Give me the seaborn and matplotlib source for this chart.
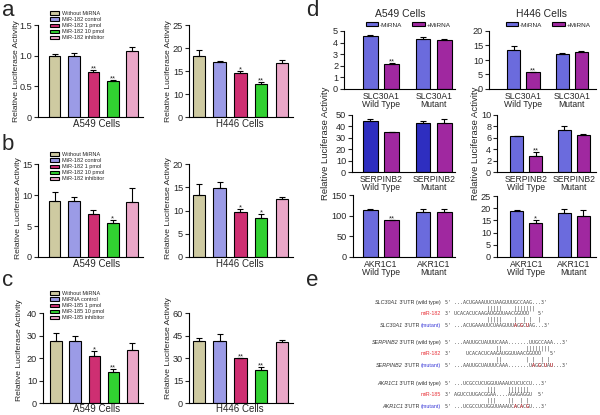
import numpy as np
import pandas as pd
import matplotlib
matplotlib.use("Agg")
import matplotlib.pyplot as plt
import seaborn as sns

sns.set_style("ticks")
plt.rcParams["font.family"] = ["Liberation Sans", "DejaVu Sans"]
plt.rcParams["axes.edgecolor"] = "black"

W, H = 600, 415

# ------------------ data: panels a-c ------------------
names_182 = ["Without MiRNA", "MiR-182 control", "MiR-182 1 pmol", "MiR-182 10 pmol", "MiR-182 inhibitor"]
names_185 = ["Without MiRNA", "MiRNA control", "MiR-185 1 pmol", "MiR-185 10 pmol", "MiR-185 inhibitor"]

a_a549 = [1.0, 1.0, 0.73, 0.58, 1.08]
a_a549_err = [0.02, 0.05, 0.04, 0.03, 0.06]
a_a549_sig = ["", "", "**", "**", ""]
a_h446 = [18.2, 16.9, 14.5, 12.1, 16.8]
a_h446_err = [1.3, 0.3, 0.45, 0.5, 0.5]
a_h446_sig = ["", "", "*", "**", ""]

b_a549 = [9.1, 9.1, 7.0, 5.5, 8.9]
b_a549_err = [1.35, 0.6, 0.65, 0.4, 2.2]
b_a549_sig = ["", "", "", "*", ""]
b_h446 = [13.4, 14.8, 9.7, 8.4, 12.4]
b_h446_err = [2.3, 1.3, 0.7, 0.9, 0.6]
b_h446_sig = ["", "", "*", "*", ""]

c_a549 = [27.6, 27.6, 21.0, 13.8, 23.4]
c_a549_err = [3.6, 2.0, 2.3, 1.3, 3.3]
c_a549_sig = ["", "", "*", "**", ""]
c_h446 = [41.3, 41.3, 29.8, 22.2, 40.4]
c_h446_err = [2.0, 4.5, 0.4, 1.8, 1.8]
c_h446_sig = ["", "", "**", "**", ""]

# ------------------ data: panel d (WT-, WT+, Mut-, Mut+) ------------------
d_construct = ["Wild Type", "Mutant"]
d_treat = ["-MiRNA", "+MiRNA"]

d_a549_slc30a1 = [4.55, 2.16, 4.35, 4.26]
d_a549_slc30a1_err = [0.12, 0.08, 0.12, 0.03]
d_a549_slc30a1_sig = ["", "**", "", ""]
d_h446_slc30a1 = [13.6, 5.7, 12.0, 12.6]
d_h446_slc30a1_err = [1.2, 0.3, 0.5, 0.4]
d_h446_slc30a1_sig = ["", "**", "", ""]

d_a549_serpinb2 = [44.5, 35.0, 43.0, 43.0]
d_a549_serpinb2_err = [2.0, 0.5, 1.5, 3.5]
d_a549_serpinb2_sig = ["", "", "", ""]
d_h446_serpinb2 = [6.3, 2.85, 7.45, 6.55]
d_h446_serpinb2_err = [0.1, 0.6, 0.6, 0.15]
d_h446_serpinb2_sig = ["", "**", "", ""]

d_a549_akr1c1 = [114, 89.5, 109, 110]
d_a549_akr1c1_err = [1, 1, 7, 5]
d_a549_akr1c1_sig = ["", "**", "", ""]
d_h446_akr1c1 = [19.0, 13.8, 18.0, 16.8]
d_h446_akr1c1_err = [0.2, 1.5, 1.8, 2.3]
d_h446_akr1c1_sig = ["", "*", "", ""]

# ------------------ data: panel e ------------------
e_genes = ["SLC30A1", "SERPINB2", "AKR1C1"]
e_mirs = ["miR-182", "miR-182", "miR-185"]
e_wild = ["5' ...ACUGAAAUUCUAAGUUUGCCAAG...3'",
          "5' ...AAUUGCUAUUUCAAA.......UUGCCAAA...3'",
          "5' ...UCGCCUCUGGUUAAAUCUCUCCU...3'"]
e_mirseq = ["3' UCACACUCAAGAUGGUUAACGGUUU   5'",
            "3'     UCACACUCAAGAUGGUUAACGGUUU   5'",
            "3' AGUCCUUGACGGAA....AGAGAGGU  5'"]
# lower case = mutated base (shown in red)
e_mutant = ["5' ...ACUGAAAUUCUAAGUUUaGgCuAG...3'",
            "5' ...AAUUGCUAUUUCAAA.......UaGgCuAu...3'",
            "5' ...UCGCCUCUGGUUAAAUCaCaCgU...3'"]
e_pairs_wild = ["              |||||    |||||||",
                "                 ||        ||||||||",
                "              |||    |||||||"]
e_pairs_mut = ["              |||||    |  | |  |",
               "                 ||        | |  | |",
               "              |||    ||  | |"]

group_colors = ["#d5d09a", "#8f8ff2", "#e8156e", "#16ec16", "#f59cc8"]
pair_colors = ["#5858f0", "#b414b4"]
pair_colors_dark = ["#1616d8", "#b414b4"]

fig = plt.figure(figsize=(6, 4.15), dpi=100)


def fx(px):
    return px / W


def fy(py):
    return 1 - py / H


def add_box(l, t, r, b):
    return fig.add_axes([fx(l), fy(b), (r - l) / W, (b - t) / H])


def seg_fwd(y):
    y = np.asarray(y, dtype=float)
    return np.where(y <= 10, y / 10, 1 + (y - 10) / 5)


def seg_inv(u):
    u = np.asarray(u, dtype=float)
    return np.where(u <= 1, u * 10, 10 + (u - 1) * 5)


def style_axes(ax):
    sns.despine(ax=ax)
    for sp in ax.spines.values():
        sp.set_linewidth(0.8)
    ax.tick_params(axis="y", length=3, width=0.8, labelsize=6.6, pad=1.2)


def add_errors(ax, xs, vals, errs, sig):
    ax.errorbar(xs, vals, yerr=[np.zeros(len(errs)), errs], fmt="none",
                ecolor="black", elinewidth=0.8, capsize=2.3, capthick=0.8)
    for x, v, e, s in zip(xs, vals, errs, sig):
        if s:
            ax.annotate(s, (x, v + e), xytext=(0, -0.3), textcoords="offset points",
                        ha="center", va="baseline", fontsize=5.5)


def group_panel(box, xlim, names, vals, errs, sig, ylim, yticks, yticklabels=None,
                seg=False, legend_at=None):
    ax = add_box(*box)
    df = pd.DataFrame({"group": names, "value": vals})
    sns.barplot(data=df, x="group", y="value", hue="group", palette=group_colors,
                width=0.6, edgecolor="black", linewidth=0.8, errorbar=None,
                legend=False, ax=ax)
    bars = list(ax.containers)
    if seg:
        ax.set_yscale("function", functions=(seg_fwd, seg_inv))
    xs = [c.patches[0].get_x() + c.patches[0].get_width() / 2 for c in bars]
    add_errors(ax, xs, vals, errs, sig)
    ax.set_xlim(*xlim)
    ax.set_ylim(*ylim)
    ax.set_yticks(yticks)
    if yticklabels is None:
        yticklabels = [f"{t:g}" for t in yticks]
    ax.set_yticklabels(yticklabels)
    ax.set_yticks([], minor=True)
    ax.set_xticks([])
    ax.set_xlabel("")
    ax.set_ylabel("")
    style_axes(ax)
    if legend_at is not None:
        ax.legend(bars, names, loc="upper left", bbox_to_anchor=(fx(legend_at[0]), fy(legend_at[1])),
                  bbox_transform=fig.transFigure, fontsize=4, frameon=False,
                  handlelength=1.7, handleheight=0.55, labelspacing=0.2,
                  handletextpad=0.5, borderpad=0, borderaxespad=0)
    return ax


def pair_panel(box, xlim, gene, vals, errs, sig, ymax, ystep, colors):
    ax = add_box(*box)
    df = pd.DataFrame({
        "construct": [f"{gene}\n{c}" for c in d_construct for _ in d_treat],
        "treat": [t for _ in d_construct for t in d_treat],
        "value": vals,
    })
    sns.barplot(data=df, x="construct", y="value", hue="treat", palette=colors,
                width=0.8, gap=0.32, edgecolor="black", linewidth=0.8,
                errorbar=None, legend=False, ax=ax)
    bars = list(ax.containers)
    xs, ys, es, ss = [], [], [], []
    for h, cont in enumerate(bars):
        for g, p in enumerate(cont.patches):
            i = g * 2 + h
            xs.append(p.get_x() + p.get_width() / 2)
            ys.append(vals[i])
            es.append(errs[i])
            ss.append(sig[i])
    add_errors(ax, xs, ys, es, ss)
    ax.set_xlim(*xlim)
    ax.set_ylim(0, ymax)
    ticks = np.arange(0, ymax + ystep / 2, ystep)
    ax.set_yticks(ticks)
    ax.set_yticklabels([f"{t:g}" for t in ticks])
    ax.set_xlabel("")
    ax.set_ylabel("")
    style_axes(ax)
    ax.tick_params(axis="x", length=0, pad=2, labelsize=6.2)
    for lab in ax.get_xticklabels():
        lab.set_linespacing(0.95)
    return ax, bars


# ------------------ panel a ------------------
group_panel((38, 25, 143, 117), (-0.85, 4.55), names_182, a_a549, a_a549_err, a_a549_sig,
            (0, 1.5), [0, 0.5, 1.0, 1.5], ["0", "0.5", "1.0", "1.5"], legend_at=(50, 11))
group_panel((189, 25, 293, 117), (-0.48, 4.53), names_182, a_h446, a_h446_err, a_h446_sig,
            (0, 25), [0, 10, 15, 20, 25], seg=True)

# ------------------ panel b ------------------
group_panel((38, 164, 143, 257), (-0.85, 4.55), names_182, b_a549, b_a549_err, b_a549_sig,
            (0, 15), [0, 5, 10, 15], legend_at=(50, 152))
group_panel((189, 164, 293, 257), (-0.48, 4.53), names_182, b_h446, b_h446_err, b_h446_sig,
            (0, 20), [0, 5, 10, 15, 20])

# ------------------ panel c ------------------
group_panel((43, 313, 143, 403), (-0.68, 4.55), names_185, c_a549, c_a549_err, c_a549_sig,
            (0, 40), [0, 10, 20, 30, 40], legend_at=(50, 291))
group_panel((189, 313, 293, 403), (-0.48, 4.53), names_185, c_h446, c_h446_err, c_h446_sig,
            (0, 60), [0, 15, 30, 45, 60])

ylab = "Relative Luciferase Activity"
for (x, y) in [(16.5, 71), (168, 71), (19, 208), (168, 208), (20, 350), (168, 348)]:
    fig.text(fx(x), fy(y), ylab, rotation=90, ha="center", va="center", fontsize=6.1)
for (x, y, s) in [(97, 124, "A549 Cells"), (240, 124, "H446 Cells"),
                  (97, 264, "A549 Cells"), (240, 264, "H446 Cells"),
                  (97, 409, "A549 Cells"), (240, 409, "H446 Cells")]:
    fig.text(fx(x), fy(y), s, ha="center", va="center", fontsize=7)

# ------------------ panel d ------------------
ax_tl, bars_tl = pair_panel((344, 31, 455, 89), (-0.70, 1.40), "SLC30A1", d_a549_slc30a1,
                            d_a549_slc30a1_err, d_a549_slc30a1_sig, 5, 1, pair_colors)
ax_tr, bars_tr = pair_panel((489, 31, 596, 89), (-0.71, 1.50), "SLC30A1", d_h446_slc30a1,
                            d_h446_slc30a1_err, d_h446_slc30a1_sig, 20, 5, pair_colors)
pair_panel((352, 115, 455, 172), (-0.55, 1.40), "SERPINB2", d_a549_serpinb2,
           d_a549_serpinb2_err, d_a549_serpinb2_sig, 50, 10, pair_colors_dark)
pair_panel((497, 115, 596, 172), (-0.62, 1.47), "SERPINB2", d_h446_serpinb2,
           d_h446_serpinb2_err, d_h446_serpinb2_sig, 10, 2, pair_colors)
pair_panel((353, 195, 455, 257), (-0.53, 1.40), "AKR1C1", d_a549_akr1c1,
           d_a549_akr1c1_err, d_a549_akr1c1_sig, 150, 50, pair_colors)
pair_panel((497, 196, 596, 257), (-0.62, 1.47), "AKR1C1", d_h446_akr1c1,
           d_h446_akr1c1_err, d_h446_akr1c1_sig, 25, 5, pair_colors)

for ax, bars, cx in [(ax_tl, bars_tl, 408), (ax_tr, bars_tr, 548)]:
    ax.legend(bars, d_treat, loc="center", bbox_to_anchor=(fx(cx), fy(25)),
              bbox_transform=fig.transFigure, ncol=2, fontsize=4.6, frameon=False,
              handlelength=2.0, handleheight=0.55, columnspacing=1.6,
              handletextpad=0.2, borderpad=0, borderaxespad=0)
fig.text(fx(400), fy(14), "A549 Cells", ha="center", va="center", fontsize=7.5)
fig.text(fx(541), fy(14), "H446 Cells", ha="center", va="center", fontsize=7.5)
fig.text(fx(325), fy(143), ylab, rotation=90, ha="center", va="center", fontsize=6.8)
fig.text(fx(475), fy(143), ylab, rotation=90, ha="center", va="center", fontsize=6.8)

# ------------------ panel e ------------------
renderer = fig.canvas.get_renderer()
lab_x, seq_x = 441, 445
lab_fs, seq_fs = 3.9, 3.6
mono = "DejaVu Sans Mono"
grey = "#444444"


def right_parts(x, y, parts):
    # parts drawn right to left, each (text, color, style)
    for s, col, style in reversed(parts):
        t = fig.text(fx(x), fy(y), s, ha="right", va="center", fontsize=lab_fs,
                     color=col, style=style)
        x -= t.get_window_extent(renderer).width


def seq_line(y, seq, col=grey):
    fig.text(fx(seq_x), fy(y), seq.upper(), family=mono, fontsize=seq_fs,
             color=col, ha="left", va="center")
    red = "".join(ch.upper() if ch.islower() else " " for ch in seq)
    if red.strip():
        fig.text(fx(seq_x), fy(y), red, family=mono, fontsize=seq_fs,
                 color="#e8333a", ha="left", va="center")


for k, y0 in enumerate([302, 342, 383]):
    step = 5.9
    right_parts(lab_x, y0, [(e_genes[k], "#333333", "italic"),
                            (" 3'UTR (wild type)", "#333333", "normal")])
    seq_line(y0, e_wild[k])
    seq_line(y0 + step, e_pairs_wild[k])
    right_parts(lab_x, y0 + 2 * step, [(e_mirs[k], "#e8333a", "normal")])
    seq_line(y0 + 2 * step, e_mirseq[k])
    seq_line(y0 + 3 * step, e_pairs_mut[k])
    right_parts(lab_x, y0 + 4 * step, [(e_genes[k], "#333333", "italic"),
                                       (" 3'UTR ", "#333333", "normal"),
                                       ("(mutant)", "#3a3ad8", "normal")])
    seq_line(y0 + 4 * step, e_mutant[k])

# ------------------ panel letters ------------------
for x, y, s in [(2, 0, "a"), (2, 134, "b"), (2, 270, "c"), (306, 0, "d"), (306, 270, "e")]:
    fig.text(fx(x), fy(y), s, ha="left", va="top", fontsize=16)

fig.savefig("out.png", dpi=100)
